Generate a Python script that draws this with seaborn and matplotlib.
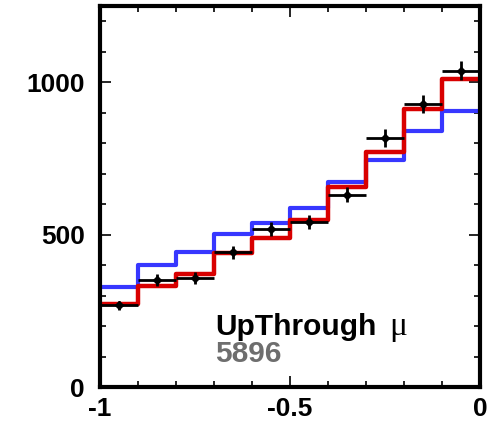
import matplotlib
matplotlib.use("Agg")
import matplotlib.pyplot as plt
from matplotlib.ticker import MultipleLocator
import seaborn as sns
import numpy as np

# bin edges of cos(zenith) histogram
edges = [-1.0, -0.9, -0.8, -0.7, -0.6, -0.5, -0.4, -0.3, -0.2, -0.1, 0.0]
centers = [-0.95, -0.85, -0.75, -0.65, -0.55, -0.45, -0.35, -0.25, -0.15, -0.05]

# MC expectations (no oscillation = blue, best fit = red)
blue_mc = [328, 399, 442, 502, 538, 586, 671, 745, 840, 905]
red_mc = [271, 332, 371, 439, 488, 549, 657, 771, 913, 1009]

# data with stat errors
data = [268, 352, 358, 442, 519, 540, 631, 818, 929, 1038]
data_err = [16, 19, 19, 21, 23, 23, 25, 29, 30, 32]

sns.set_style("ticks", {"axes.edgecolor": "black", "xtick.color": "black",
                        "ytick.color": "black", "text.color": "black"})
plt.rcParams["font.family"] = ["Liberation Sans", "DejaVu Sans"]

fig = plt.figure(figsize=(4.97, 4.24), dpi=100)
ax = fig.add_axes([0.201, 0.087, 0.765, 0.899])

sns.lineplot(x=edges, y=blue_mc + [blue_mc[-1]], drawstyle="steps-post",
             color="#3737ff", linewidth=3.0, estimator=None, sort=False, ax=ax)
sns.lineplot(x=edges, y=red_mc + [red_mc[-1]], drawstyle="steps-post",
             color="#d90000", linewidth=3.2, estimator=None, sort=False, ax=ax)
ax.errorbar(centers, data, yerr=data_err, xerr=0.05, fmt="D", color="black",
            markersize=4.5, elinewidth=2.0, capsize=0, zorder=5)

ax.set_xlim(-1, 0)
ax.set_ylim(0, 1250)
ax.xaxis.set_major_locator(MultipleLocator(0.5))
ax.xaxis.set_minor_locator(MultipleLocator(0.1))
ax.yaxis.set_major_locator(MultipleLocator(500))
ax.yaxis.set_minor_locator(MultipleLocator(100))
ax.set_xticks([-1, -0.5, 0])
ax.set_xticklabels(["-1", "-0.5", "0"])
ax.tick_params(which="both", direction="in", top=True, right=True, width=1.2,
               color="black", labelcolor="black")
ax.tick_params(which="major", length=8, labelsize=19)
ax.tick_params(axis="y", which="major", pad=11)
ax.tick_params(axis="x", which="major", pad=7)
ax.tick_params(which="minor", length=4.5)
for lab in ax.get_xticklabels() + ax.get_yticklabels():
    lab.set_fontweight("bold")
for sp in ax.spines.values():
    sp.set_linewidth(3)
    sp.set_color("black")
    sp.set_visible(True)

ax.text(-0.697, 170, "UpThrough", fontsize=21.5, fontweight="bold",
        color="black", va="baseline")
ax.text(-0.24, 170, "\u03bc", fontsize=24, color="black", va="baseline",
        family=["Liberation Serif", "DejaVu Serif"])
ax.text(-0.697, 82, "5896", fontsize=21.5, fontweight="bold",
        color="#6e6e6e", va="baseline")

ax.set_xlabel("")
ax.set_ylabel("")
fig.savefig("out.png", dpi=100)
